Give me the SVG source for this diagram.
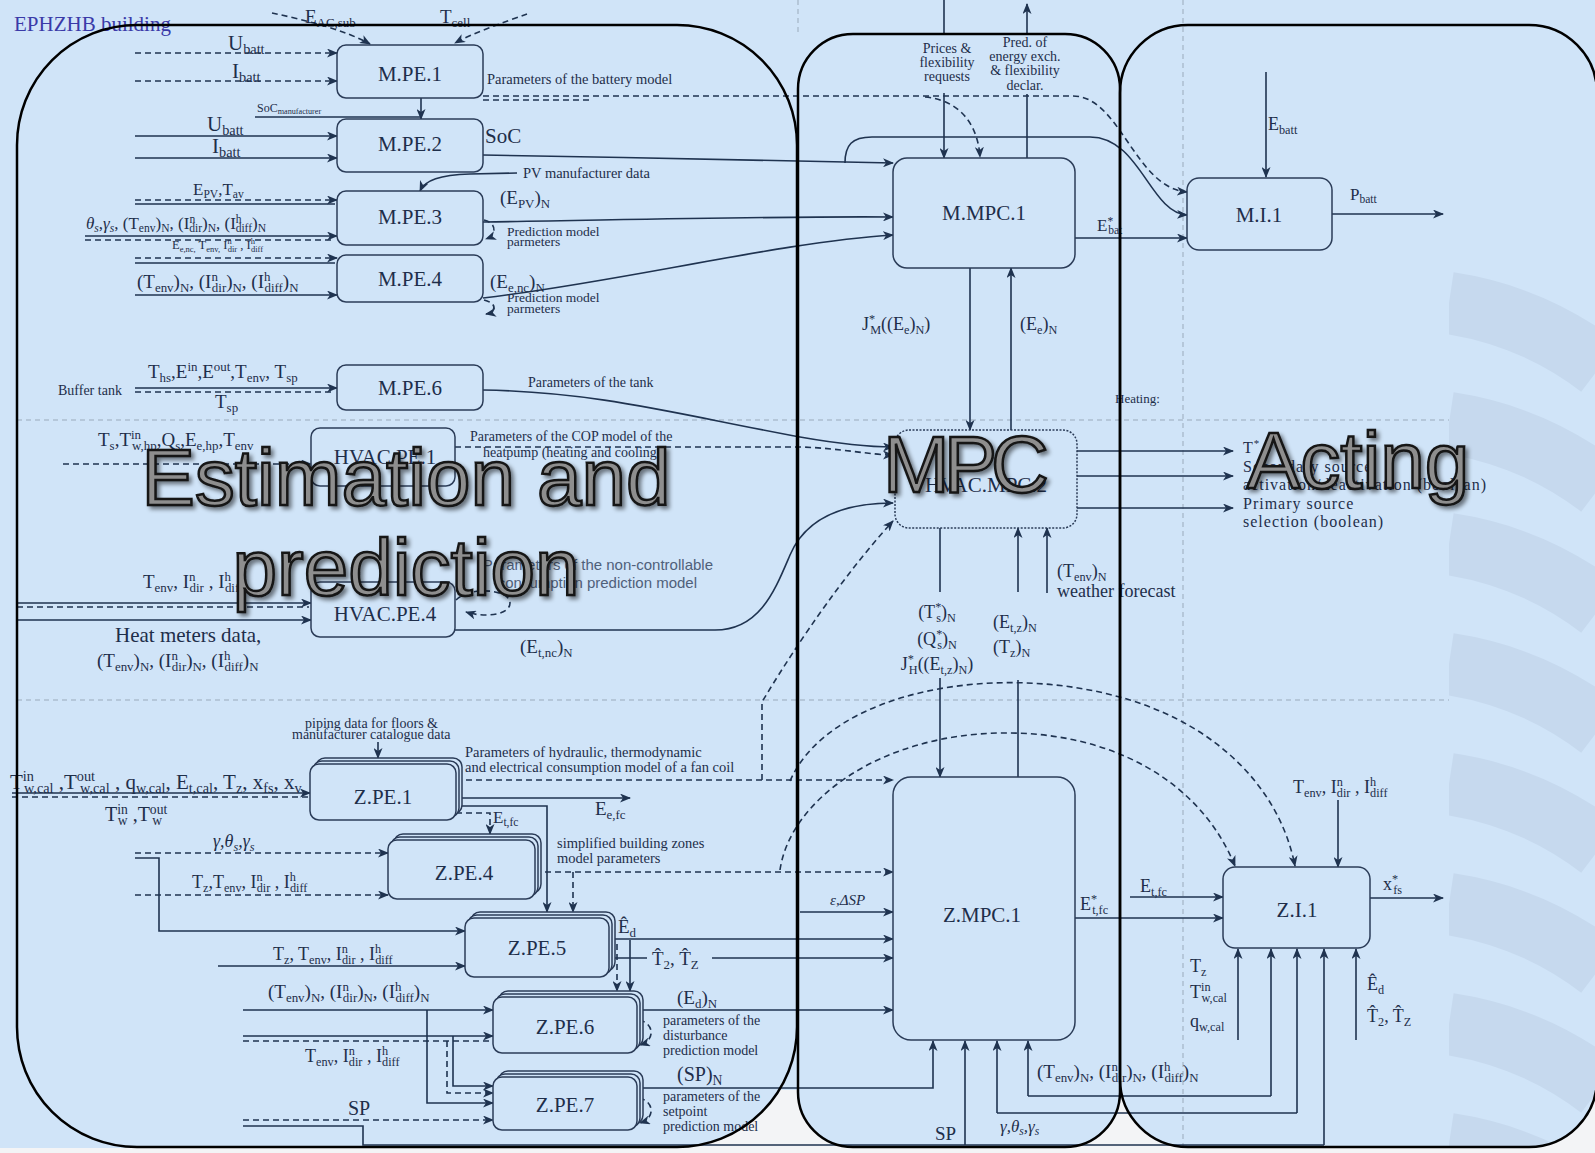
<svg xmlns="http://www.w3.org/2000/svg" width="1595" height="1153" viewBox="0 0 1595 1153">
<defs>
<style>
.t{font-family:"Liberation Serif","Times New Roman",serif;fill:#1e2e4a}
.c{text-anchor:middle}
.i{font-style:italic}
.u{font-size:68%;baseline-shift:0.55em}
.s{font-size:68%;baseline-shift:-0.3em}
.nl{font-size:21px;text-anchor:middle}
.an{font-size:14.5px}
.ln{fill:none;stroke:#1f3350;stroke-width:1.6}
.d{stroke-dasharray:6 4}
.a{marker-end:url(#ah)}
.bx{fill:#d0e4f8;stroke:#2b3c58;stroke-width:1.5}
.sep{fill:none;stroke:#9aaabb;stroke-width:1;stroke-dasharray:5 4}
.pan{fill:none;stroke:#000;stroke-width:2.5}
.pf{fill:#d0e4f8}
.wa{font-family:"Liberation Sans",Arial,sans-serif;font-size:80px;fill:#8e8e8e;stroke:#141414;stroke-width:2.5;text-anchor:middle;filter:url(#sh)}
.wm{fill:none;stroke:#c6d9ee;stroke-width:62}
</style>
<marker id="ah" markerWidth="11" markerHeight="9" refX="10" refY="4.5" orient="auto" markerUnits="userSpaceOnUse"><path d="M0,0 L11,4.5 L0,9 L3,4.5 z" fill="#1f3350"/></marker>
<filter id="sh" x="-10%" y="-20%" width="125%" height="150%">
<feGaussianBlur in="SourceAlpha" stdDeviation="2"/>
<feOffset dx="3" dy="3"/>
<feComponentTransfer><feFuncA type="linear" slope="0.5"/></feComponentTransfer>
<feMerge><feMergeNode/><feMergeNode in="SourceGraphic"/></feMerge>
</filter>
<clipPath id="rp"><rect x="1120" y="25" width="477" height="1122" rx="68"/></clipPath>
<clipPath id="wz"><rect x="1449" y="265" width="146" height="890"/></clipPath>
</defs>

<!-- background -->
<rect width="1595" height="1153" fill="#d0e4f8"/>
<rect x="600" y="1090" width="995" height="63" fill="#f3f4f6"/>
<rect x="0" y="1148" width="1595" height="5" fill="#f3f4f6"/>

<!-- panel fills -->
<g id="panel-fills">
<rect class="pf" x="17" y="25" width="780" height="1122" rx="120"/>
<rect class="pf" x="798" y="34" width="322" height="1113" rx="55"/>
<rect class="pf" x="1120" y="25" width="477" height="1122" rx="68"/>
</g>

<!-- watermark stripes -->
<g clip-path="url(#rp)"><g clip-path="url(#wz)">
<path class="wm" d="M1449,303 A330,330 0 0 1 1600,367"/>
<path class="wm" d="M1449,423 A330,330 0 0 1 1600,487"/>
<path class="wm" d="M1449,544 A330,330 0 0 1 1600,608"/>
<path class="wm" d="M1449,664 A330,330 0 0 1 1600,728"/>
<path class="wm" d="M1449,784 A330,330 0 0 1 1600,848"/>
<path class="wm" d="M1449,904 A330,330 0 0 1 1600,968"/>
<path class="wm" d="M1449,1024 A330,330 0 0 1 1600,1088"/>
<path class="wm" d="M1449,1144 A330,330 0 0 1 1600,1208"/>
</g></g>

<!-- section separators -->
<g id="separators">
<path class="sep" d="M17,420 H1449"/>
<path class="sep" d="M17,700 H1449"/>
<path class="sep" d="M1183,0 V1147"/>
<path class="sep" d="M798,0 V36"/>
</g>

<!-- connectors -->
<g id="connectors">
<path class="ln d a" d="M272,13 C305,20 345,30 370,44"/>
<path class="ln d a" d="M527,14 C505,22 475,32 455,43"/>
<path class="ln d a" d="M135,53 H337"/>
<path class="ln d a" d="M135,81 H337"/>
<path class="ln a" d="M421,98 V119"/>
<path class="ln" d="M255,117 H421"/>
<path class="ln a" d="M135,136 H337"/>
<path class="ln a" d="M135,158 H337"/>
<path class="ln d a" d="M135,200 H337"/>
<path class="ln" d="M135,204 H335"/>
<path class="ln a" d="M85,236 H337"/>
<path class="ln d" d="M85,240 H335"/>
<path class="ln d a" d="M135,258 H337"/>
<path class="ln" d="M135,263 H335"/>
<path class="ln a" d="M135,295 H337"/>
<path class="ln a" d="M517,173 L470,174 C440,175 425,180 420,191"/>
<path class="ln a" d="M483,155 C620,157 780,161 893,163"/>
<path class="ln a" d="M483,222 C620,220 780,216 893,217"/>
<path class="ln a" d="M483,298 C620,282 780,242 893,235"/>
<path class="ln d a" d="M484,220 C497,223 497,235 486,239"/>
<path class="ln d a" d="M484,300 C497,303 497,312 486,314"/>
<path class="ln d a" d="M483,96 H1073 C1120,96 1135,188 1187,192"/>
<path class="ln d" d="M483,100 H590"/>
<path class="ln d a" d="M925,97 C960,100 978,125 980,157"/>
<path class="ln a" d="M845,163 C845,145 852,137 872,137 H1090 C1140,137 1150,213 1187,215"/>
<path class="ln" d="M944,0 V34"/>
<path class="ln a" d="M944,93 V158"/>
<path class="ln" d="M1027,158 V94"/>
<path class="ln a" d="M1027,34 V4"/>
<path class="ln a" d="M1075,238 H1187"/>
<path class="ln a" d="M1266,72 V177"/>
<path class="ln a" d="M1332,214 H1443"/>
<path class="ln a" d="M970,268 V430"/>
<path class="ln a" d="M1011,430 V268"/>
<path class="ln a" d="M135,388 H337"/>
<path class="ln d" d="M135,392 H335"/>
<path class="ln a" d="M483,390 C600,392 680,415 800,437 C840,444 870,447 893,447"/>
<path class="ln d a" d="M63,464 H311"/>
<path class="ln d a" d="M455,447 H800 C840,448 870,455 893,455"/>
<path class="ln a" d="M17,603 H311"/>
<path class="ln d" d="M17,607 H309"/>
<path class="ln a" d="M17,620 H311"/>
<path class="ln d a" d="M456,600 C470,586 510,589 510,603 C510,615 485,618 466,612"/>
<path class="ln a" d="M455,630 H715 C760,630 775,590 790,555 C805,520 840,503 893,503"/>
<path class="ln d a" d="M762,780 V702 C775,680 830,590 893,521"/>
<path class="ln a" d="M1077,451 H1233"/>
<path class="ln a" d="M1077,476 H1233"/>
<path class="ln a" d="M1077,508 H1233"/>
<path class="ln" d="M940,528 V592"/>
<path class="ln a" d="M940,678 V777"/>
<path class="ln a" d="M1018,592 V528"/>
<path class="ln" d="M1018,777 V680"/>
<path class="ln a" d="M1047,593 V528"/>
<path class="ln a" d="M12,793 H310"/>
<path class="ln d" d="M12,797 H308"/>
<path class="ln a" d="M378,742 V758"/>
<path class="ln d a" d="M456,780 H893"/>
<path class="ln a" d="M456,798 H630"/>
<path class="ln a" d="M456,806 H547 V912"/>
<path class="ln d a" d="M456,813 H490 V834"/>
<path class="ln d a" d="M135,853 H388"/>
<path class="ln d a" d="M135,895 H388"/>
<path class="ln a" d="M135,858 H159 V931 H465"/>
<path class="ln d a" d="M535,872 H893"/>
<path class="ln d a" d="M573,872 V912"/>
<path class="ln a" d="M218,966 H465"/>
<path class="ln a" d="M609,939 H893"/>
<path class="ln" d="M609,958 H647"/>
<path class="ln a" d="M712,958 H893"/>
<path class="ln d a" d="M617,944 V991"/>
<path class="ln a" d="M630,940 V991"/>
<path class="ln a" d="M243,1010 H493"/>
<path class="ln a" d="M243,1036 H493"/>
<path class="ln d" d="M243,1041 H491"/>
<path class="ln a" d="M637,1010 H893"/>
<path class="ln d a" d="M639,1020 C654,1023 656,1040 640,1045"/>
<path class="ln a" d="M427,1010 V1103 H493"/>
<path class="ln a" d="M453,1036 V1086 H493"/>
<path class="ln d a" d="M447,1041 V1093 H493"/>
<path class="ln d a" d="M243,1120 H493"/>
<path class="ln" d="M243,1126 H363 V1145 H1324"/>
<path class="ln a" d="M637,1088 H933 V1041"/>
<path class="ln d a" d="M639,1098 C654,1101 656,1118 640,1123"/>
<path class="ln a" d="M800,912 H893"/>
<path class="ln a" d="M965,1145 V1041"/>
<path class="ln a" d="M997,1113 V1041"/>
<path class="ln" d="M997,1113 H1297"/>
<path class="ln a" d="M1297,1113 V949"/>
<path class="ln a" d="M1028,1096 V1041"/>
<path class="ln" d="M1028,1096 H1271"/>
<path class="ln a" d="M1271,1096 V949"/>
<path class="ln a" d="M1324,1145 V949"/>
<path class="ln a" d="M1075,918 H1223"/>
<path class="ln a" d="M1130,897 H1223"/>
<path class="ln a" d="M1338,800 V867"/>
<path class="ln a" d="M1370,898 H1443"/>
<path class="ln a" d="M1238,1040 V949"/>
<path class="ln a" d="M1356,1040 V949"/>
<path class="ln d a" d="M790,781 C830,690 1000,660 1130,700 C1220,728 1280,790 1295,866"/>
<path class="ln d a" d="M780,870 C790,800 880,735 1000,733 C1110,731 1200,780 1235,866"/>
</g>

<!-- connector labels -->
<g id="labels">
<text class="t" x="14" y="31" style="font-size:21px;fill:#3a3aa8">EPHZHB building</text>
<text class="t" x="305" y="23" style="font-size:19px">E<tspan class="s">AC,sub</tspan></text>
<text class="t" x="440" y="23" style="font-size:19px">T<tspan class="s">cell</tspan></text>
<text class="t" x="228" y="50" style="font-size:21px">U<tspan class="s">batt</tspan></text>
<text class="t" x="232" y="78" style="font-size:21px">I<tspan class="s">batt</tspan></text>
<text class="t an" x="487" y="84">Parameters of the battery model</text>
<text class="t" x="257" y="112" style="font-size:12px">SoC<tspan class="s">manufacturer</tspan></text>
<text class="t" x="207" y="131" style="font-size:21px">U<tspan class="s">batt</tspan></text>
<text class="t" x="212" y="153" style="font-size:21px">I<tspan class="s">batt</tspan></text>
<text class="t" x="485" y="143" style="font-size:21px">SoC</text>
<text class="t an" x="523" y="178">PV manufacturer data</text>
<text class="t" x="193" y="195" style="font-size:17px">E<tspan class="s">PV</tspan>,T<tspan class="s">av</tspan></text>
<text class="t" x="86" y="229" style="font-size:17px"><tspan class="i">θ</tspan><tspan class="s i">s</tspan>,<tspan class="i">γ</tspan><tspan class="s i">s</tspan>, (T<tspan class="s">env</tspan>)<tspan class="s">N</tspan>, (I<tspan class="u">n</tspan><tspan class="s" dx="-6">dir</tspan>)<tspan class="s">N</tspan>, (I<tspan class="u">h</tspan><tspan class="s" dx="-6">diff</tspan>)<tspan class="s">N</tspan></text>
<text class="t" x="500" y="204" style="font-size:19px">(E<tspan class="s">PV</tspan>)<tspan class="s">N</tspan></text>
<text class="t" x="507" y="236" style="font-size:13.5px">Prediction model</text>
<text class="t" x="507" y="246" style="font-size:13.5px">parmeters</text>
<text class="t" x="172" y="249" style="font-size:12.5px">E<tspan class="s">e,nc,</tspan>  T<tspan class="s">env,</tspan> I<tspan class="u">n</tspan><tspan class="s" dx="-4">dir</tspan> , I<tspan class="u">h</tspan><tspan class="s" dx="-4">diff</tspan></text>
<text class="t" x="137" y="288" style="font-size:19px">(T<tspan class="s">env</tspan>)<tspan class="s">N</tspan>, (I<tspan class="u">n</tspan><tspan class="s" dx="-6">dir</tspan>)<tspan class="s">N</tspan>, (I<tspan class="u">h</tspan><tspan class="s" dx="-6">diff</tspan>)<tspan class="s">N</tspan></text>
<text class="t" x="490" y="288" style="font-size:19px">(E<tspan class="s">e,nc</tspan>)<tspan class="s">N</tspan></text>
<text class="t" x="507" y="302" style="font-size:13.5px">Prediction model</text>
<text class="t" x="507" y="313" style="font-size:13.5px">parmeters</text>

<text class="t" x="58" y="395" style="font-size:14px">Buffer tank</text>
<text class="t" x="148" y="378" style="font-size:19px">T<tspan class="s">hs</tspan>,E<tspan class="u">in</tspan>,E<tspan class="u">out</tspan>,T<tspan class="s">env</tspan>, T<tspan class="s">sp</tspan></text>
<text class="t" x="215" y="408" style="font-size:19px">T<tspan class="s">sp</tspan></text>
<text class="t" x="528" y="387" style="font-size:14px">Parameters of the tank</text>

<text class="t" x="98" y="446" style="font-size:19px">T<tspan class="s">s</tspan>,T<tspan class="u">in</tspan><tspan class="s" dx="-9">w,hp</tspan>,Q<tspan class="s">s</tspan>,E<tspan class="s">e,hp</tspan>,T<tspan class="s">env</tspan></text>
<text class="t" x="470" y="441" style="font-size:14px">Parameters of the COP model of the</text>
<text class="t" x="483" y="457" style="font-size:14px">heatpump (heating and cooling)</text>

<text class="t" x="143" y="588" style="font-size:19px">T<tspan class="s">env</tspan>, I<tspan class="u">n</tspan><tspan class="s" dx="-6">dir</tspan> , I<tspan class="u">h</tspan><tspan class="s" dx="-6">diff</tspan></text>
<text class="t" x="115" y="642" style="font-size:21px">Heat meters data,</text>
<text class="t" x="97" y="667" style="font-size:19px">(T<tspan class="s">env</tspan>)<tspan class="s">N</tspan>, (I<tspan class="u">n</tspan><tspan class="s" dx="-6">dir</tspan>)<tspan class="s">N</tspan>, (I<tspan class="u">h</tspan><tspan class="s" dx="-6">diff</tspan>)<tspan class="s">N</tspan></text>
<text x="713" y="570" text-anchor="end" style="font-family:'Liberation Sans',Arial,sans-serif;font-size:15px;fill:#4f607a">Parameters of the non-controllable</text>
<text x="697" y="588" text-anchor="end" style="font-family:'Liberation Sans',Arial,sans-serif;font-size:15px;fill:#4f607a">consumption prediction model</text>
<text class="t" x="520" y="653" style="font-size:19px">(E<tspan class="s">t,nc</tspan>)<tspan class="s">N</tspan></text>

<text class="t" x="305" y="728" style="font-size:14px">piping data for floors &amp;</text>
<text class="t" x="292" y="739" style="font-size:14px">manufacturer catalogue data</text>
<text class="t" x="10" y="789" style="font-size:21px">T<tspan class="u">in</tspan><tspan class="s" dx="-10">w,cal</tspan> ,T<tspan class="u">out</tspan><tspan class="s" dx="-15">w,cal</tspan> , q<tspan class="s">w,cal</tspan>, E<tspan class="s">t,cal</tspan>, T<tspan class="s">z</tspan>, x<tspan class="s">fs</tspan>, x<tspan class="s">v</tspan></text>
<text class="t" x="105" y="821" style="font-size:20px">T<tspan class="u">in</tspan><tspan class="s" dx="-10">w</tspan> ,T<tspan class="u">out</tspan><tspan class="s" dx="-15">w</tspan></text>
<text class="t an" x="465" y="757">Parameters of hydraulic, thermodynamic</text>
<text class="t an" x="465" y="772">and electrical consumption model of a fan coil</text>
<text class="t" x="595" y="815" style="font-size:19px">E<tspan class="s">e,fc</tspan></text>
<text class="t" x="493" y="823" style="font-size:17px">E<tspan class="s">t,fc</tspan></text>
<text class="t i" x="213" y="847" style="font-size:18px">γ,θ<tspan class="s">s</tspan>,γ<tspan class="s">s</tspan></text>
<text class="t" x="192" y="888" style="font-size:18px">T<tspan class="s">z</tspan>,T<tspan class="s">env</tspan>, I<tspan class="u">n</tspan><tspan class="s" dx="-6">dir</tspan> , I<tspan class="u">h</tspan><tspan class="s" dx="-6">diff</tspan></text>
<text class="t an" x="557" y="848">simplified building zones</text>
<text class="t an" x="557" y="863">model parameters</text>
<text class="t" x="273" y="960" style="font-size:18px">T<tspan class="s">z</tspan>, T<tspan class="s">env</tspan>, I<tspan class="u">n</tspan><tspan class="s" dx="-6">dir</tspan> , I<tspan class="u">h</tspan><tspan class="s" dx="-6">diff</tspan></text>
<text class="t" x="618" y="933" style="font-size:19px">Ê<tspan class="s">d</tspan></text>
<text class="t" x="652" y="965" style="font-size:19px">T&#x302;<tspan class="s">2</tspan>, T&#x302;<tspan class="s">Z</tspan></text>
<text class="t" x="268" y="998" style="font-size:19px">(T<tspan class="s">env</tspan>)<tspan class="s">N</tspan>, (I<tspan class="u">n</tspan><tspan class="s" dx="-6">dir</tspan>)<tspan class="s">N</tspan>, (I<tspan class="u">h</tspan><tspan class="s" dx="-6">diff</tspan>)<tspan class="s">N</tspan></text>
<text class="t" x="305" y="1062" style="font-size:18px">T<tspan class="s">env</tspan>, I<tspan class="u">n</tspan><tspan class="s" dx="-6">dir</tspan> , I<tspan class="u">h</tspan><tspan class="s" dx="-6">diff</tspan></text>
<text class="t" x="348" y="1115" style="font-size:20px">SP</text>
<text class="t" x="677" y="1004" style="font-size:19px">(E<tspan class="s">d</tspan>)<tspan class="s">N</tspan></text>
<text class="t" x="663" y="1025" style="font-size:14px">parameters of the</text>
<text class="t" x="663" y="1040" style="font-size:14px">disturbance</text>
<text class="t" x="663" y="1055" style="font-size:14px">prediction model</text>
<text class="t" x="677" y="1081" style="font-size:20px">(SP)<tspan class="s">N</tspan></text>
<text class="t" x="663" y="1101" style="font-size:14px">parameters of the</text>
<text class="t" x="663" y="1116" style="font-size:14px">setpoint</text>
<text class="t" x="663" y="1131" style="font-size:14px">prediction model</text>

<text class="t c" x="947" y="53" style="font-size:14px">Prices &amp;</text>
<text class="t c" x="947" y="67" style="font-size:14px">flexibility</text>
<text class="t c" x="947" y="81" style="font-size:14px">requests</text>
<text class="t c" x="1025" y="47" style="font-size:14px">Pred. of</text>
<text class="t c" x="1025" y="61" style="font-size:14px">energy exch.</text>
<text class="t c" x="1025" y="75" style="font-size:14px">&amp; flexibility</text>
<text class="t c" x="1025" y="90" style="font-size:14px">declar.</text>
<text class="t" x="1097" y="231" style="font-size:17px">E<tspan class="u">*</tspan><tspan class="s" dx="-5">bat</tspan></text>
<text class="t" x="1268" y="130" style="font-size:18px">E<tspan class="s">batt</tspan></text>
<text class="t" x="1350" y="200" style="font-size:17px">P<tspan class="s">batt</tspan></text>
<text class="t" x="862" y="330" style="font-size:18px">J<tspan class="u">*</tspan><tspan class="s" dx="-5">M</tspan>((E<tspan class="s">e</tspan>)<tspan class="s">N</tspan>)</text>
<text class="t" x="1020" y="330" style="font-size:18px">(E<tspan class="s">e</tspan>)<tspan class="s">N</tspan></text>
<text class="t" x="1115" y="403" style="font-size:13px">Heating:</text>
<text class="t" x="1243" y="453" style="font-size:16px;letter-spacing:1px">T<tspan class="u">*</tspan></text>
<text class="t" x="1243" y="472" style="font-size:16px;letter-spacing:1px">Secondary source</text>
<text class="t" x="1243" y="490" style="font-size:16px;letter-spacing:1px">activation/deactivation (boolean)</text>
<text class="t" x="1243" y="509" style="font-size:16px;letter-spacing:1px">Primary source</text>
<text class="t" x="1243" y="527" style="font-size:16px;letter-spacing:1px">selection (boolean)</text>
<text class="t c" x="937" y="618" style="font-size:18px">(T<tspan class="u">*</tspan><tspan class="s" dx="-5">s</tspan>)<tspan class="s">N</tspan></text>
<text class="t c" x="937" y="645" style="font-size:18px">(Q<tspan class="u">*</tspan><tspan class="s" dx="-5">s</tspan>)<tspan class="s">N</tspan></text>
<text class="t c" x="937" y="670" style="font-size:18px">J<tspan class="u">*</tspan><tspan class="s" dx="-5">H</tspan>((E<tspan class="s">t,z</tspan>)<tspan class="s">N</tspan>)</text>
<text class="t" x="993" y="628" style="font-size:18px">(E<tspan class="s">t,z</tspan>)<tspan class="s">N</tspan></text>
<text class="t" x="993" y="653" style="font-size:18px">(T<tspan class="s">z</tspan>)<tspan class="s">N</tspan></text>
<text class="t" x="1057" y="577" style="font-size:18px">(T<tspan class="s">env</tspan>)<tspan class="s">N</tspan></text>
<text class="t" x="1057" y="597" style="font-size:18px">weather forecast</text>
<text class="t i" x="830" y="905" style="font-size:15px">ε,ΔSP</text>
<text class="t" x="935" y="1140" style="font-size:19px">SP</text>
<text class="t i" x="1000" y="1132" style="font-size:17px">γ,θ<tspan class="s">s</tspan>,γ<tspan class="s">s</tspan></text>
<text class="t" x="1037" y="1078" style="font-size:19px">(T<tspan class="s">env</tspan>)<tspan class="s">N</tspan>, (I<tspan class="u">n</tspan><tspan class="s" dx="-6">dir</tspan>)<tspan class="s">N</tspan>, (I<tspan class="u">h</tspan><tspan class="s" dx="-6">diff</tspan>)<tspan class="s">N</tspan></text>
<text class="t" x="1080" y="910" style="font-size:18px">E<tspan class="u">*</tspan><tspan class="s" dx="-5">t,fc</tspan></text>
<text class="t" x="1140" y="892" style="font-size:18px">E<tspan class="s">t,fc</tspan></text>
<text class="t" x="1293" y="793" style="font-size:18px">T<tspan class="s">env</tspan>, I<tspan class="u">n</tspan><tspan class="s" dx="-6">dir</tspan> , I<tspan class="u">h</tspan><tspan class="s" dx="-6">diff</tspan></text>
<text class="t" x="1383" y="890" style="font-size:18px">x<tspan class="u">*</tspan><tspan class="s" dx="-5">fs</tspan></text>
<text class="t" x="1190" y="972" style="font-size:18px">T<tspan class="s">z</tspan></text>
<text class="t" x="1190" y="998" style="font-size:18px">T<tspan class="u">in</tspan><tspan class="s" dx="-9">w,cal</tspan></text>
<text class="t" x="1190" y="1027" style="font-size:18px">q<tspan class="s">w,cal</tspan></text>
<text class="t" x="1367" y="990" style="font-size:18px">Ê<tspan class="s">d</tspan></text>
<text class="t" x="1367" y="1022" style="font-size:18px">T&#x302;<tspan class="s">2</tspan>, T&#x302;<tspan class="s">Z</tspan></text>
</g>

<!-- nodes -->
<g id="m-pe-1"><rect class="bx" x="337" y="45" width="146" height="53" rx="9"/><text class="t nl" x="410" y="81">M.PE.1</text></g>
<g id="m-pe-2"><rect class="bx" x="337" y="119" width="146" height="53" rx="9"/><text class="t nl" x="410" y="151">M.PE.2</text></g>
<g id="m-pe-3"><rect class="bx" x="337" y="191" width="146" height="54" rx="9"/><text class="t nl" x="410" y="224">M.PE.3</text></g>
<g id="m-pe-4"><rect class="bx" x="337" y="255" width="146" height="47" rx="9"/><text class="t nl" x="410" y="286">M.PE.4</text></g>
<g id="m-pe-6"><rect class="bx" x="337" y="365" width="146" height="45" rx="9"/><text class="t nl" x="410" y="395">M.PE.6</text></g>
<g id="hvac-pe-1"><rect class="bx" x="311" y="428" width="144" height="58" rx="9"/><text class="t nl" x="385" y="464">HVAC.PE.1</text></g>
<g id="hvac-pe-4"><rect class="bx" x="311" y="582" width="144" height="55" rx="9"/><text class="t nl" x="385" y="621">HVAC.PE.4</text></g>
<g id="z-pe-1"><rect class="bx" x="316" y="758" width="146" height="56" rx="9"/><rect class="bx" x="313" y="761" width="146" height="56" rx="9"/><rect class="bx" x="310" y="764" width="146" height="56" rx="9"/><text class="t nl" x="383" y="804">Z.PE.1</text></g>
<g id="z-pe-4"><rect class="bx" x="394" y="834" width="147" height="59" rx="9"/><rect class="bx" x="391" y="837" width="147" height="59" rx="9"/><rect class="bx" x="388" y="840" width="147" height="59" rx="9"/><text class="t nl" x="464" y="880">Z.PE.4</text></g>
<g id="z-pe-5"><rect class="bx" x="471" y="912" width="144" height="59" rx="9"/><rect class="bx" x="468" y="915" width="144" height="59" rx="9"/><rect class="bx" x="465" y="918" width="144" height="59" rx="9"/><text class="t nl" x="537" y="955">Z.PE.5</text></g>
<g id="z-pe-6"><rect class="bx" x="499" y="991" width="144" height="56" rx="9"/><rect class="bx" x="496" y="994" width="144" height="56" rx="9"/><rect class="bx" x="493" y="997" width="144" height="56" rx="9"/><text class="t nl" x="565" y="1034">Z.PE.6</text></g>
<g id="z-pe-7"><rect class="bx" x="499" y="1071" width="144" height="53" rx="9"/><rect class="bx" x="496" y="1074" width="144" height="53" rx="9"/><rect class="bx" x="493" y="1077" width="144" height="53" rx="9"/><text class="t nl" x="565" y="1112">Z.PE.7</text></g>
<g id="m-mpc-1"><rect class="bx" x="893" y="158" width="182" height="110" rx="14"/><text class="t nl" x="984" y="220">M.MPC.1</text></g>
<g id="hvac-mpc-2"><rect class="bx" x="895" y="430" width="182" height="98" rx="14" style="stroke-dasharray:2 1.5"/><text class="t nl" x="986" y="492">HVAC.MPC.2</text></g>
<g id="z-mpc-1"><rect class="bx" x="893" y="777" width="182" height="263" rx="18"/><text class="t nl" x="982" y="922">Z.MPC.1</text></g>
<g id="m-i-1"><rect class="bx" x="1187" y="178" width="145" height="72" rx="12"/><text class="t nl" x="1259" y="222">M.I.1</text></g>
<g id="z-i-1"><rect class="bx" x="1223" y="867" width="147" height="81" rx="12"/><text class="t nl" x="1297" y="917">Z.I.1</text></g>

<!-- panel outlines -->
<g id="panels">
<rect class="pan" x="17" y="25" width="780" height="1122" rx="120"/>
<rect class="pan" x="798" y="34" width="322" height="1113" rx="55"/>
<rect class="pan" x="1120" y="25" width="477" height="1122" rx="68"/>
</g>

<!-- panel titles -->
<g id="titles">
<text class="wa" x="406" y="505">Estimation and</text>
<text class="wa" x="406" y="595">prediction</text>
<text class="wa" x="963" y="492" style="letter-spacing:-6px">MPC</text>
<text class="wa" x="1358" y="488">Acting</text>
</g>
</svg>
